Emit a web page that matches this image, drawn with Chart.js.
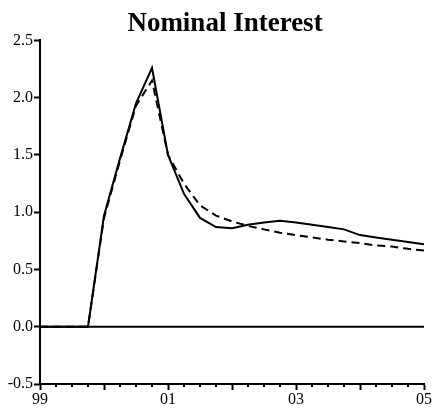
<!DOCTYPE html>
<html>
<head>
<meta charset="utf-8">
<script src="https://cdn.jsdelivr.net/npm/chart.js@4"></script>
<style>
html,body{margin:0;padding:0;background:#fff;}
#wrap{width:440px;height:408px;}
</style>
</head>
<body>
<div id="wrap"><canvas id="c" width="440" height="408"></canvas></div>
<script>
// quarter index 0 = 1999Q1 ... 24 = 2005Q1
const quarters = [0,1,2,3,4,5,6,7,8,9,10,11,12,13,14,15,16,17,18,19,20,21,22,23,24];
const yearLabels = {0:"99", 8:"01", 16:"03", 24:"05"};
const solidSeries = [0,0,0,0,0.97,1.47,1.95,2.26,1.50,1.16,0.95,0.87,0.86,0.89,0.91,0.925,0.91,0.89,0.87,0.85,0.80,0.78,0.76,0.74,0.72];
const dashedSeries = [0,0,0,0,0.95,1.45,1.93,2.15,1.50,1.25,1.06,0.97,0.92,0.88,0.85,0.82,0.80,0.78,0.76,0.745,0.73,0.71,0.70,0.68,0.665];
const zeroSeries = quarters.map(() => 0);
const yTicks = [-0.5,0.0,0.5,1.0,1.5,2.0,2.5];

const toXY = arr => arr.map((v,i) => ({x: quarters[i], y: v}));

const minorTicks = {
  id: 'minorTicks',
  afterLayout(chart) {
    const t = chart.titleBlock;
    if (t) { t.left += 26; }
  },
  afterDraw(chart) {
    const xs = chart.scales.x;
    const ctx = chart.ctx;
    const yb = chart.chartArea.bottom;
    ctx.save();
    ctx.strokeStyle = '#000';
    ctx.lineWidth = 2;
    quarters.forEach(q => {
      if (q % 4 === 0) return;
      const px = xs.getPixelForValue(q);
      ctx.beginPath();
      ctx.moveTo(px, yb);
      ctx.lineTo(px, yb + 3);
      ctx.stroke();
    });
    ctx.restore();
  }
};

new Chart(document.getElementById('c'), {
  type: 'line',
  data: {
    datasets: [
      {data: toXY(zeroSeries), borderColor:'#000', borderWidth:2, pointRadius:0, tension:0},
      {data: toXY(dashedSeries), borderColor:'#000', borderWidth:2, borderDash:[8,5], pointRadius:0, tension:0},
      {data: toXY(solidSeries), borderColor:'#000', borderWidth:2, pointRadius:0, tension:0}
    ]
  },
  options: {
    responsive: false,
    animation: false,
    devicePixelRatio: 1,
    layout: {padding: {left: 0, right: 16, top: 0, bottom: 0}},
    plugins: {
      legend: {display: false},
      tooltip: {enabled: false},
      title: {
        display: true,
        text: 'Nominal Interest',
        color: '#000',
        font: {family: '"Liberation Serif", "DejaVu Serif", serif', size: 27, weight: 'bold', lineHeight: 1.2},
        padding: {top: 8, bottom: 0}
      }
    },
    scales: {
      x: {
        type: 'linear',
        min: 0, max: 24,
        afterFit: s => { s.height = 24; },
        afterBuildTicks: s => { s.ticks = quarters.filter(q => q % 4 === 0).map(v => ({value: v})); },
        ticks: {
          autoSkip: false,
          maxRotation: 0,
          color: '#000',
          padding: 0,
          font: {family: '"Liberation Serif", serif', size: 16},
          callback: v => (yearLabels[v] !== undefined ? yearLabels[v] : '')
        },
        grid: {drawOnChartArea: false, drawTicks: true, tickLength: 6, tickWidth: 2, tickColor: '#000'},
        border: {display: true, color: '#000', width: 2}
      },
      y: {
        min: -0.5, max: 2.5,
        afterFit: s => { s.width = 40; },
        afterBuildTicks: s => { s.ticks = yTicks.map(v => ({value: v})); },
        ticks: {
          color: '#000',
          padding: 1,
          font: {family: '"Liberation Serif", serif', size: 16},
          callback: v => v.toFixed(1)
        },
        grid: {drawOnChartArea: false, drawTicks: true, tickLength: 6, tickWidth: 2, tickColor: '#000'},
        border: {display: true, color: '#000', width: 2}
      }
    }
  },
  plugins: [minorTicks]
});
</script>
</body>
</html>
